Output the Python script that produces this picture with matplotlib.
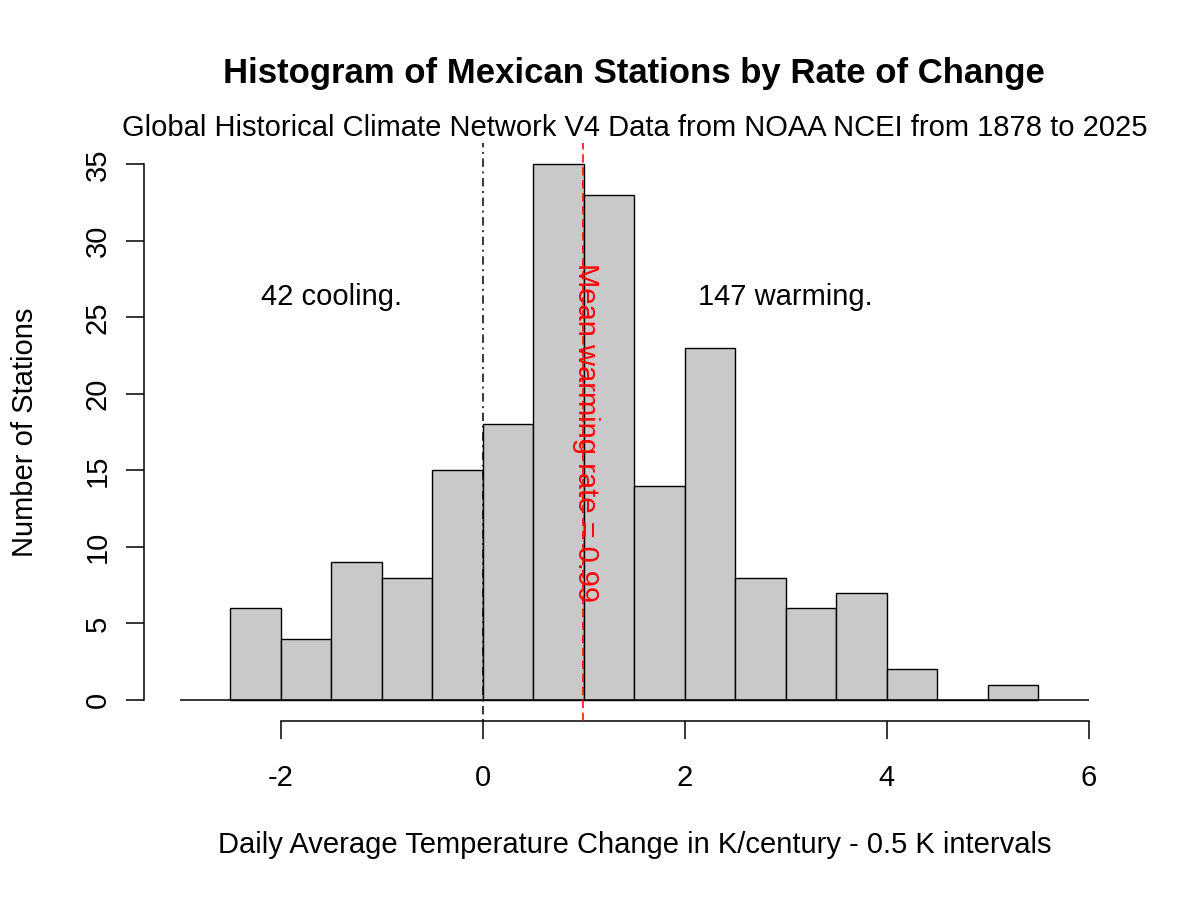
import matplotlib
matplotlib.use("Agg")
import matplotlib.pyplot as plt
import numpy as np

plt.rcParams['font.family'] = ['Liberation Sans', 'DejaVu Sans']

# Data
bin_edges = [-2.5, -2.0, -1.5, -1.0, -0.5, 0.0, 0.5, 1.0, 1.5, 2.0, 2.5, 3.0, 3.5, 4.0, 4.5, 5.0, 5.5]
counts = [6, 4, 9, 8, 15, 18, 35, 33, 14, 23, 8, 6, 7, 2, 0, 1]
mean_rate = 0.99
n_cooling = 42
n_warming = 147
x_ticks = [-2, 0, 2, 4, 6]
y_ticks = [0, 5, 10, 15, 20, 25, 30, 35]

title = "Histogram of Mexican Stations by Rate of Change"
subtitle = "Global Historical Climate Network V4 Data from NOAA NCEI from 1878 to 2025"
xlabel = "Daily Average Temperature Change in K/century - 0.5 K intervals"
ylabel = "Number of Stations"

W, H = 1200, 900
fig = plt.figure(figsize=(12, 9), dpi=100)
left, right, top, bottom = 143.6, 1125.0, 142.9, 721.4
ax = fig.add_axes([left / W, 1 - bottom / H, (right - left) / W, (bottom - top) / H])
ax.set_xlim(-3.36, 6.36)
ax.set_ylim(-1.4, 36.4)

lw = 1.1
widths = np.diff(bin_edges)
ax.bar(bin_edges[:-1], counts, width=widths, align='edge', color='#c9c9c9',
       edgecolor='black', linewidth=1.0, zorder=2)
ax.hlines(0, -3, 6, color='black', linewidth=lw, zorder=3)

ax.axvline(0, color='black', linewidth=lw, linestyle=(0, (1.3, 3, 5.5, 3)), zorder=4)
ax.axvline(mean_rate, color='red', linewidth=lw, linestyle=(0, (5.5, 3)), zorder=4)

fs = 21
ax.text(-1.5, 26.3, f"{n_cooling} cooling.", ha='center', va='center', fontsize=fs)
ax.text(3.0, 26.3, f"{n_warming} warming.", ha='center', va='center', fontsize=fs)
ax.text(mean_rate + 0.03, 17.5, f"Mean warming rate = {mean_rate}", rotation=-90,
        ha='center', va='center', fontsize=fs, color='red', zorder=5)

for s in ['top', 'right']:
    ax.spines[s].set_visible(False)
ax.spines['left'].set_bounds(0, 35)
ax.spines['bottom'].set_bounds(-2, 6)
for s in ['left', 'bottom']:
    ax.spines[s].set_linewidth(lw)
ax.set_xticks(x_ticks)
ax.set_yticks(y_ticks)
ax.set_xticklabels([str(t) for t in x_ticks])
ax.set_yticklabels([str(t) for t in y_ticks], rotation=90, va='center')
ax.tick_params(axis='both', direction='out', length=13, width=lw, labelsize=fs)
ax.tick_params(axis='x', pad=18)
ax.tick_params(axis='y', pad=10)
ax.patch.set_visible(False)

cx = (left + right) / 2 / W
fig.text(cx, 1 - 73 / H, title, ha='center', va='center', fontsize=25, fontweight='bold')
fig.text(cx, 1 - 128 / H, subtitle, ha='center', va='center', fontsize=fs)
fig.text(cx, 1 - 845 / H, xlabel, ha='center', va='center', fontsize=fs)
fig.text(25 / W, 1 - 432 / H, ylabel, ha='center', va='center', rotation=90, fontsize=fs)

fig.savefig("out.png", dpi=100)
